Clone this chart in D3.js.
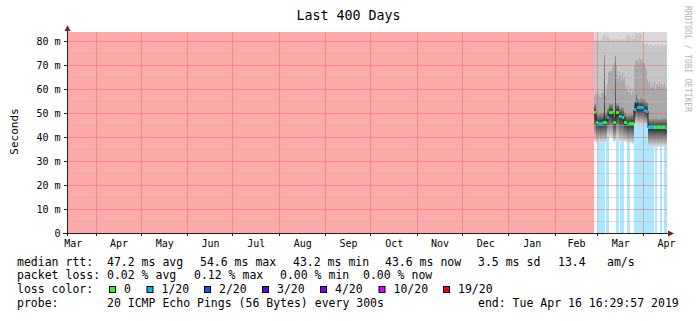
<!DOCTYPE html>
<html>
<head>
<meta charset="utf-8">
<script src="https://cdn.jsdelivr.net/npm/d3@7"></script>
<style>
  body { margin: 0; background: #fff; }
  svg text { font-family: "DejaVu Sans Mono", monospace; }
</style>
</head>
<body>
<div id="chart"></div>
<script>
// time window of the graph and of the stored samples
const graphStart = new Date(2018, 2, 12, 16, 29, 57);
const graphEnd = new Date(2019, 3, 16, 16, 29, 57);
const dataStart = new Date(2019, 1, 27, 0, 29, 57);
const stepHours = 16;

const yMax = 83.75;
const yTicks = [0, 10, 20, 30, 40, 50, 60, 70, 80];
const yMinorTicks = [5, 15, 25, 35, 45, 55, 65, 75];
const monthLabels = ["Mar", "Apr", "May", "Jun", "Jul", "Aug", "Sep", "Oct", "Nov", "Dec", "Jan", "Feb", "Mar", "Apr"];

// median rtt per sample (ms)
const median = [
  50.3, 50.3, 46.1, 46.1, 45.8, 45.8, 45.8, 45.8, 45.8, 46.1,
  46.1, 46.1, 46.1, 48.2, 48.2, 50.3, 50.3, 50.3, 50.3, 46.1,
  46.1, 46.1, 50.3, 50.3, 50.3, 48.6, 48.6, 48.6, 48.2, 48.2,
  46.1, 46.1, 46.1, 45.1, 45.1, 45.5, 45.5, 45.5, 45.5, 45.5,
  51.4, 51.4, 54.6, 52.1, 52.1, 52.1, 52.1, 52.1, 52.1, 52.1,
  51.2, 51.2, 50.7, 50.7, 43.8, 43.8, 43.8, 43.8, 43.8, 43.8,
  43.8, 43.8, 43.8, 43.8, 43.8, 43.8, 43.8, 43.8, 43.8, 43.8,
  43.8, 43.8, 43.6
];
// lost pings out of 20 per sample
const loss = [
  0, 0, 0, 0, 0.6, 1, 1, 0.6, 0.6, 0.3,
  0.3, 0, 0.3, 0.6, 0.6, 0, 0, 0, 0, 0,
  0, 0, 0.3, 0.3, 0.3, 0, 0.6, 0.6, 0.6, 0.3,
  0, 0, 0, 0.6, 0.6, 0.3, 0, 0, 0, 0,
  0.6, 0.6, 0.6, 0.6, 0.6, 0.6, 0.6, 0.6, 0.6, 0.6,
  0.6, 0.6, 0.6, 0.6, 0.6, 0.6, 0.6, 0.6, 0.6, 0.6,
  0, 0.3, 0.6, 0, 0, 0, 0.3, 0.6, 0, 0,
  0.3, 0.6, 0.6
];
// smoke: lowest ping, top of dark smoke, top of mid smoke, top of light smoke (ms)
const smokeMin = [
  38.3, 38, 37.6, 38.2, 37.8, 38.4, 37.5, 38, 38.3, 37.7, 38.1, 37.9, 38.4,
  40.5, 40.8, 39.9, 40.3, 39.6, 40.1,
  38.3, 38, 38.5,
  39.6, 39.9, 39.3,
  38.2, 37.8, 38.4, 38, 37.6, 38.3, 37.9, 38.1,
  37.5, 37.2, 37.8, 37.4, 37.6, 37.1, 37.5,
  45.1, 45.3, 45, 45.4, 45.1, 44.9, 45.2, 45, 45.3, 45.1, 44.8, 45, 44.7, 44.9,
  36.1, 35.8, 36.3, 35.9, 36.2, 36, 35.7, 36.1, 36.4, 35.9, 36, 36.2, 35.8, 36.1, 35.9, 36.3, 36, 35.8, 36.1
];
const smokeDark = [
  53.5, 53.8,
  49.5, 50, 49.2, 49.8, 50.2, 49.6, 49.9, 50.5, 74.3, 49.8, 50.3,
  52, 52.4, 54, 53.6, 54.2, 53.8,
  49.8, 50.2, 73.8,
  54, 53.5, 54.2,
  52.4, 52, 52.6, 52, 52.2,
  49.8, 50.3, 49.6,
  48.8, 49.2, 49.4, 49, 49.6, 49.2, 49.5,
  55, 55.5, 58, 55.8, 56, 55.6, 56.2, 55.9, 56.1, 55.7, 56, 54.8, 55, 54.4,
  47.6, 47.2, 47.8, 47.4, 47.5, 47.9, 47.3, 47.6, 47.8, 47.2, 47.5, 47.7, 47.4, 47.6, 47.9, 47.3, 47.5, 47.8, 47.4
];
const smokeMid = [
  57, 58, 57.6, 59, 58, 57, 56.5, 58.5, 59.5, 58, 60, 57, 59,
  62, 67, 68, 66.5, 67.5, 69,
  70.8, 71, 69.5, 70,
  66, 64, 67, 65.5, 63, 66.5, 64, 65, 62,
  60, 61.5, 59, 58.5, 60.5, 57.5, 59, 58,
  70, 71.5, 72.2, 72, 71, 73, 72.5, 71.8, 72.6, 70.5, 71, 69, 68, 64,
  62, 63.5, 61, 62.5, 60.4, 61.8, 63, 60, 61.5, 62.2, 60.8, 63, 61, 62, 60.5, 61.6, 62.5, 60, 61
];
const smokeHigh = [
  80.2, 80.5, 79.8, 80, 80.4, 79.9, 80.3, 80,
  81.5, 82.3, 83, 82, 81.4, 82.8, 81.8,
  80.8, 81, 80.2, 80.6, 81.2, 80.4, 80, 80.7, 81.1, 80.3, 80.9, 80.5, 80, 81, 80.6, 80.2, 80.8,
  82, 81.5, 83, 82.5, 80.5, 81.8, 82.6, 81, 82.2,
  83.3, 83.5, 83, 83.4, 83.2, 83.5, 83.1,
  79.5, 78.8, 79.2, 78.5, 79, 78.7,
  78.4, 78, 78.6, 78.2, 77.9, 78.5, 78.1, 78.8, 78.3, 77.8, 78.6, 78.2, 78, 78.4, 78.7, 77.9, 78.3, 78.5, 78.1
];

// loss colour legend
const lossLevels = [0, 1, 2, 3, 4, 10, 19];
const lossLabels = ["0", "1/20", "2/20", "3/20", "4/20", "10/20", "19/20"];
const lossColors = ["#26ff00", "#00b8ff", "#0059ff", "#5e00ff", "#7e00ff", "#dd00ff", "#ff0000"];

// legend texts
const rttLine = ["median rtt:", "47.2 ms avg", "54.6 ms max", "43.2 ms min", "43.6 ms now", "3.5 ms sd", "13.4", "am/s"];
const lossLine = ["packet loss:", "0.02 % avg", "0.12 % max", "0.00 % min", "0.00 % now"];
const probeLine = ["probe:", "20 ICMP Echo Pings (56 Bytes) every 300s", "end: Tue Apr 16 16:29:57 2019"];

(function () {
    const W = 697, H = 321;
    const plot = { left: 67, right: 667, top: 32, bottom: 233 };

    const svg = d3.select("#chart")
      .append("svg")
        .attr("width", W)
        .attr("height", H);

    svg.append("rect").attr("width", W).attr("height", H).attr("fill", "#fff");

    const x = d3.scaleTime().domain([graphStart, graphEnd]).range([plot.left, plot.right]);
    const y = d3.scaleLinear().domain([0, yMax]).range([plot.bottom, plot.top]);

    const samples = median.map((m, i) => ({
        t0: d3.timeHour.offset(dataStart, i * stepHours),
        t1: d3.timeHour.offset(dataStart, (i + 1) * stepHours),
        median: m,
        loss: loss[i],
        lo: smokeMin[i],
        dark: smokeDark[i],
        mid: smokeMid[i],
        high: smokeHigh[i]
    }));

    function lossColor(l) {
        const r = Math.round(l);
        let c = lossColors[0];
        lossLevels.forEach((lv, k) => { if (r >= lv) c = lossColors[k]; });
        return c;
    }

    const defs = svg.append("defs");
    defs.append("clipPath").attr("id", "plotclip")
      .append("rect")
        .attr("x", plot.left).attr("y", plot.top)
        .attr("width", plot.right - plot.left).attr("height", plot.bottom - plot.top);

    const down = defs.append("linearGradient").attr("id", "smokeDown")
        .attr("x1", 0).attr("y1", 0).attr("x2", 0).attr("y2", 1);
    down.append("stop").attr("offset", "0%").attr("stop-color", "#2a2a2a");
    down.append("stop").attr("offset", "100%").attr("stop-color", "#dcdcdc");
    const up = defs.append("linearGradient").attr("id", "smokeUp")
        .attr("x1", 0).attr("y1", 0).attr("x2", 0).attr("y2", 1);
    up.append("stop").attr("offset", "0%").attr("stop-color", "#959595");
    up.append("stop").attr("offset", "100%").attr("stop-color", "#2a2a2a");

    const g = svg.append("g").attr("clip-path", "url(#plotclip)");

    // no data area
    g.append("rect")
        .attr("x", x(graphStart))
        .attr("y", y(yMax))
        .attr("width", x(dataStart) - x(graphStart))
        .attr("height", y(0) - y(yMax))
        .attr("fill", "#ffaaaa");

    // loss background
    g.append("g").selectAll("rect")
      .data(samples.filter(d => d.loss > 0))
      .enter().append("rect")
        .attr("x", d => x(d.t0))
        .attr("width", d => x(d.t1) - x(d.t0))
        .attr("y", y(yMax))
        .attr("height", y(0) - y(yMax))
        .attr("fill", "#00b8ff")
        .attr("fill-opacity", 0.33)
        .attr("shape-rendering", "crispEdges");

    // smoke bands
    const bands = [
        { top: d => yMax, bot: d => d.high, fill: "#d9d9d9" },
        { top: d => d.high, bot: d => d.mid, fill: "#c6c6c6" },
        { top: d => d.mid, bot: d => d.dark, fill: "#a9a9a9" },
        { top: d => d.dark, bot: d => d.median, fill: "url(#smokeUp)" },
        { top: d => d.median, bot: d => d.lo, fill: "url(#smokeDown)" }
    ];
    bands.forEach(b => {
        g.append("g").selectAll("rect")
          .data(samples)
          .enter().append("rect")
            .attr("x", d => x(d.t0))
            .attr("width", d => x(d.t1) - x(d.t0))
            .attr("y", d => y(b.top(d)))
            .attr("height", d => Math.max(0, y(b.bot(d)) - y(b.top(d))))
            .attr("fill", b.fill)
            .attr("shape-rendering", "crispEdges");
    });

    // grid
    const minorCol = "rgba(186,186,186,0.5)";
    const majorCol = "rgba(224,80,80,0.4)";
    g.append("g").selectAll("line")
      .data(yMinorTicks)
      .enter().append("line")
        .attr("x1", plot.left).attr("x2", plot.right)
        .attr("y1", d => Math.round(y(d)) + 0.5).attr("y2", d => Math.round(y(d)) + 0.5)
        .attr("stroke", minorCol);
    g.append("g").selectAll("line")
      .data(yTicks.filter(v => v > 0))
      .enter().append("line")
        .attr("x1", plot.left).attr("x2", plot.right)
        .attr("y1", d => Math.round(y(d)) + 0.5).attr("y2", d => Math.round(y(d)) + 0.5)
        .attr("stroke", majorCol);
    const monthStarts = d3.timeMonth.range(d3.timeMonth.ceil(graphStart), graphEnd);
    g.append("g").selectAll("line")
      .data(monthStarts)
      .enter().append("line")
        .attr("x1", d => Math.round(x(d)) + 0.5).attr("x2", d => Math.round(x(d)) + 0.5)
        .attr("y1", plot.top).attr("y2", plot.bottom)
        .attr("stroke", majorCol);

    // median line
    const stepPts = [];
    samples.forEach(d => { stepPts.push([x(d.t0), y(d.median)]); stepPts.push([x(d.t1), y(d.median)]); });
    g.append("path")
        .attr("d", d3.line()(stepPts))
        .attr("fill", "none")
        .attr("stroke", "#202020")
        .attr("stroke-width", 1);
    g.append("g").selectAll("rect")
      .data(samples)
      .enter().append("rect")
        .attr("x", d => x(d.t0))
        .attr("width", d => x(d.t1) - x(d.t0))
        .attr("y", d => y(d.median) - 1.5)
        .attr("height", 3)
        .attr("fill", d => lossColor(d.loss))
        .attr("shape-rendering", "crispEdges");

    // y axis labels and ticks
    const yAxis = svg.append("g")
        .attr("transform", `translate(${plot.left},0)`)
        .call(d3.axisLeft(y).tickValues(yTicks).tickSize(3).tickPadding(3.5)
            .tickFormat(v => v === 0 ? "0" : v + " m"));
    yAxis.select(".domain").remove();
    yAxis.selectAll("line").attr("stroke", "#202020");
    yAxis.selectAll("text")
        .style("font-family", "DejaVu Sans Mono")
        .style("font-size", "10px")
        .attr("fill", "#000");

    // x axis labels centred between month starts
    const months = d3.timeMonth.range(d3.timeMonth.floor(graphStart), graphEnd);
    const labelDates = months.map(m => new Date((+m + +d3.timeMonth.offset(m, 1)) / 2));
    const xAxis = svg.append("g")
        .attr("transform", `translate(0,${plot.bottom})`)
        .call(d3.axisBottom(x).tickValues(labelDates).tickSize(0).tickPadding(6.4)
            .tickFormat((d, i) => monthLabels[i]));
    xAxis.select(".domain").remove();
    xAxis.selectAll("text")
        .style("font-family", "DejaVu Sans Mono")
        .style("font-size", "10px")
        .attr("fill", "#000");
    svg.append("g").selectAll("line")
      .data(monthStarts)
      .enter().append("line")
        .attr("x1", d => Math.round(x(d)) + 0.5).attr("x2", d => Math.round(x(d)) + 0.5)
        .attr("y1", plot.bottom).attr("y2", plot.bottom + 3)
        .attr("stroke", "#202020");

    // axis lines with arrows
    svg.append("line")
        .attr("x1", plot.left - 4).attr("x2", plot.right + 4)
        .attr("y1", plot.bottom + 0.5).attr("y2", plot.bottom + 0.5)
        .attr("stroke", "#202020");
    svg.append("line")
        .attr("x1", plot.left + 0.5).attr("x2", plot.left + 0.5)
        .attr("y1", plot.bottom + 3).attr("y2", plot.top - 3)
        .attr("stroke", "#202020");
    svg.append("path")
        .attr("d", `M${plot.right + 1},${plot.bottom - 2.5} L${plot.right + 7},${plot.bottom + 0.5} L${plot.right + 1},${plot.bottom + 3.5} Z`)
        .attr("fill", "#802020");
    svg.append("path")
        .attr("d", `M${plot.left - 2.5},${plot.top - 1} L${plot.left + 0.5},${plot.top - 7} L${plot.left + 3.5},${plot.top - 1} Z`)
        .attr("fill", "#802020");

    // title and axis title
    svg.append("text")
        .attr("x", 348.5).attr("y", 20)
        .attr("text-anchor", "middle")
        .style("font-size", "13.3px")
        .text("Last 400 Days");
    svg.append("text")
        .attr("transform", "translate(18,131.5) rotate(-90)")
        .attr("text-anchor", "middle")
        .style("font-size", "11px")
        .text("Seconds");
    svg.append("text")
        .attr("transform", "translate(685,6) rotate(90)")
        .style("font-size", "8px")
        .attr("fill", "#b4b4b4")
        .text("RRDTOOL / TOBI OETIKER");

    // legend
    const legend = svg.append("g").style("font-size", "11.5px").attr("fill", "#000");
    const rttX = [17, 107, 200, 293, 385, 478, 558, 607];
    const lossX = [17, 107, 194, 280, 363];
    const probeX = [17, 107, 478];
    const rowY = [265.5, 279, 293, 306.5];
    rttLine.forEach((t, i) => legend.append("text").attr("x", rttX[i]).attr("y", rowY[0]).text(t));
    lossLine.forEach((t, i) => legend.append("text").attr("x", lossX[i]).attr("y", rowY[1]).text(t));
    legend.append("text").attr("x", 17).attr("y", rowY[2]).text("loss color:");
    const boxX = [109.5, 147, 204.5, 262.5, 320.5, 379, 443.5];
    lossLabels.forEach((t, i) => {
        legend.append("rect")
            .attr("x", boxX[i]).attr("y", 286.5)
            .attr("width", 6).attr("height", 6)
            .attr("fill", lossColors[i])
            .attr("stroke", "#000")
            .attr("stroke-width", 1);
        legend.append("text").attr("x", boxX[i] + 14.5).attr("y", rowY[2]).text(t);
    });
    probeLine.forEach((t, i) => legend.append("text").attr("x", probeX[i]).attr("y", rowY[3]).text(t));
})();
</script>
</body>
</html>
